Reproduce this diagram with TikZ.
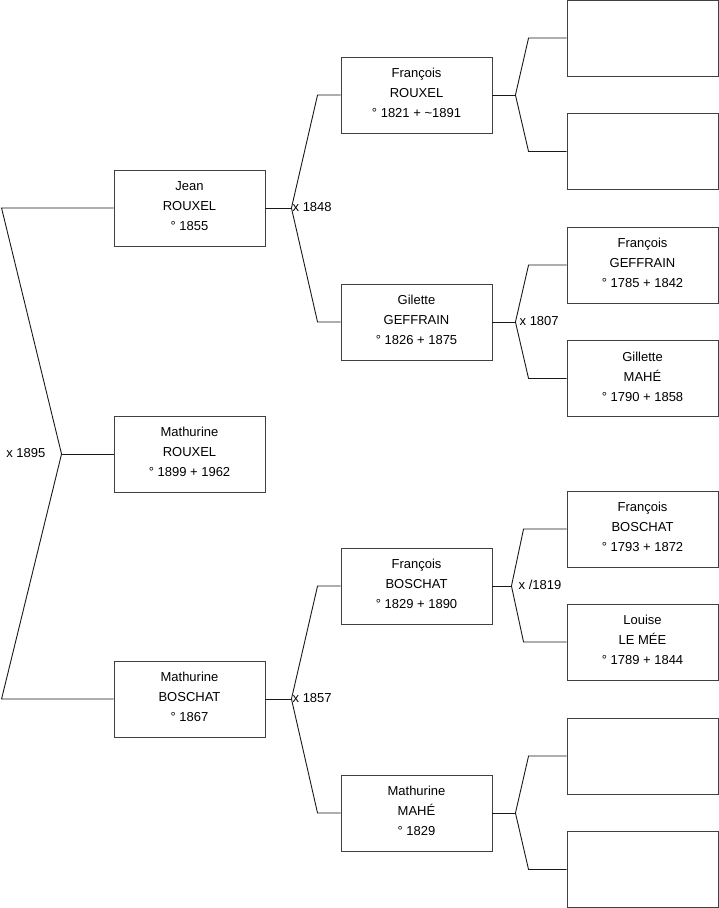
\documentclass[tikz,border=0pt]{standalone}
\usepackage{fontspec}
\setmainfont{Liberation Sans}
\usepackage{tikz}
\usetikzlibrary{calc}
\newcommand{\Ahne}[4]{%
  \node[person] (#1) at (#2,#3) {#4};
}
\newcommand{\Gabel}[5]{%
  \draw[link] (#1.east) -- ++(#4,0) coordinate (#1-j);
  \draw[link] (#1-j) -- ($(#2.west)+(-#5,0)$) -- (#2.west);
  \draw[link] (#1-j) -- ($(#3.west)+(-#5,0)$) -- (#3.west);
}

\begin{document}
\begin{tikzpicture}[x=1pt,y=-1pt,
  person/.style={draw=black!75,line width=0.9pt,minimum width=151pt,minimum height=76pt,
    inner sep=0pt,align=center,text depth=4pt,font=\fontsize{13}{20}\selectfont},
  link/.style={draw=black!90,line width=0.9pt},
  heirat/.style={font=\fontsize{13}{16}\selectfont,inner sep=1pt}]
  \useasboundingbox (0,0) rectangle (719,908);
  % Kind
  \Ahne{mathR}{189.5}{454}{Mathurine\\ROUXEL\\° 1899 + 1962}
  % Eltern
  \Ahne{jean}{189.5}{208}{Jean\\ROUXEL\\° 1855}
  \Ahne{mathB}{189.5}{699}{Mathurine\\BOSCHAT\\° 1867}
  % Grosseltern
  \Ahne{frR}{416.5}{95}{François\\ROUXEL\\° 1821 + \textasciitilde1891}
  \Ahne{gilG}{416.5}{322}{Gilette\\GEFFRAIN\\° 1826 + 1875}
  \Ahne{frB}{416.5}{586}{François\\BOSCHAT\\° 1829 + 1890}
  \Ahne{mathM}{416.5}{813}{Mathurine\\MAHÉ\\° 1829}
  % Urgrosseltern
  \Ahne{u1}{642.5}{38}{}
  \Ahne{u2}{642.5}{151.5}{}
  \Ahne{frG}{642.5}{265}{François\\GEFFRAIN\\° 1785 + 1842}
  \Ahne{gilM}{642.5}{378.5}{Gillette\\MAHÉ\\° 1790 + 1858}
  \Ahne{frB2}{642.5}{529}{François\\BOSCHAT\\° 1793 + 1872}
  \Ahne{louL}{642.5}{642}{Louise\\LE MÉE\\° 1789 + 1844}
  \Ahne{u7}{642.5}{756}{}
  \Ahne{u8}{642.5}{869.5}{}

  \draw[link] (mathR.west) -- ++(-52,0) coordinate (mathR-j);
  \draw[link] (mathR-j) -- ($(jean.west)+(-112,0)$) -- (jean.west);
  \draw[link] (mathR-j) -- ($(mathB.west)+(-112,0)$) -- (mathB.west);
  \node[heirat,anchor=east] (h1895) at ($(mathR-j)+(-15,-1)$) {x 1895};

  \Gabel{jean}{frR}{gilG}{26}{23}
  \Gabel{mathB}{frB}{mathM}{26}{23}
  \Gabel{frR}{u1}{u2}{23}{38}
  \Gabel{gilG}{frG}{gilM}{23}{38}
  \Gabel{frB}{frB2}{louL}{19}{43}
  \Gabel{mathM}{u7}{u8}{23}{38}

  \node[heirat,anchor=west] (h1848) at ($(jean-j)+(0,-1)$) {x 1848};
  \node[heirat,anchor=west] (h1857) at ($(mathB-j)+(0,-1)$) {x 1857};
  \node[heirat,anchor=west] (h1807) at ($(gilG-j)+(3,-1)$) {x 1807};
  \node[heirat,anchor=west] (h1819) at ($(frB-j)+(6,-1)$) {x /1819};
\end{tikzpicture}
\end{document}
